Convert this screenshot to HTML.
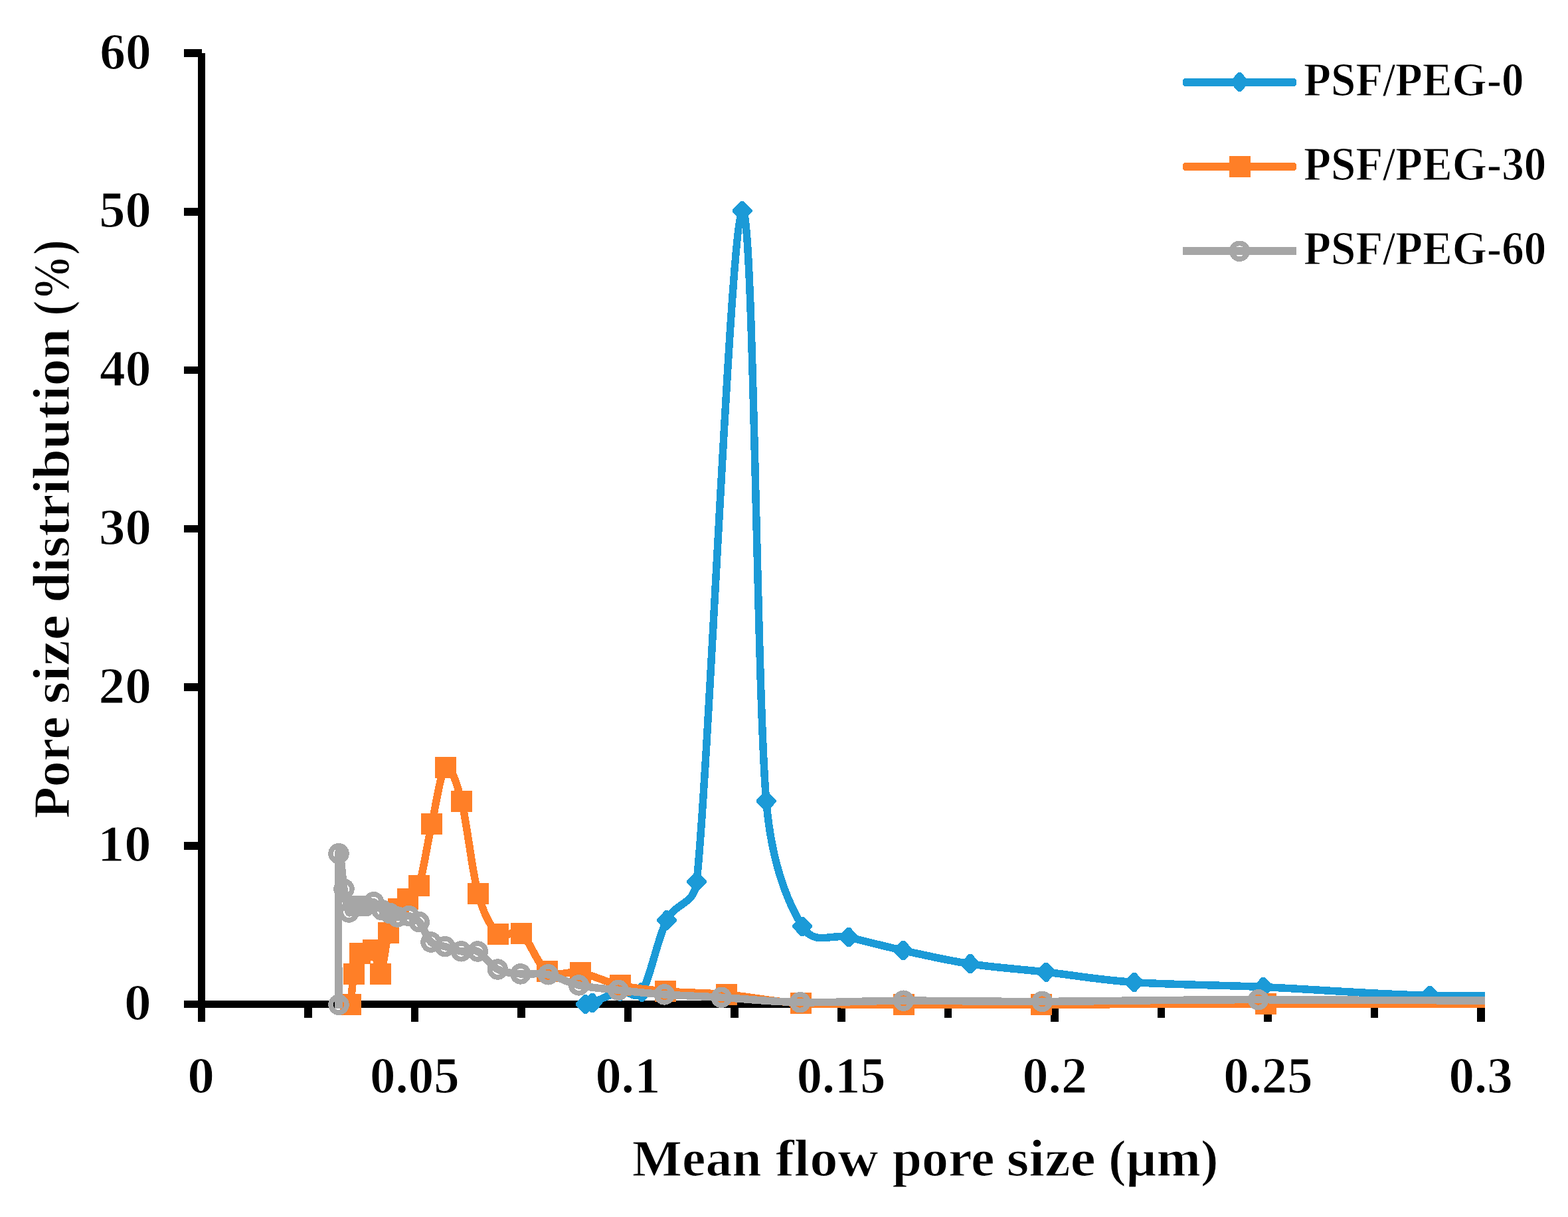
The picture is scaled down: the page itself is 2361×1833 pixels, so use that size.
<!DOCTYPE html>
<html lang="en"><head><meta charset="utf-8"><title>Pore size distribution</title>
<style>html,body{margin:0;padding:0;background:#fff;}body{width:2361px;height:1833px;overflow:hidden;}svg{display:block;}text{font-family:"Liberation Serif", "DejaVu Serif", serif;font-weight:bold;fill:#000;stroke:#fff;stroke-width:1.2;stroke-linejoin:round;white-space:pre;}</style>
</head><body>
<svg width="2361" height="1833" viewBox="0 0 2361 1833" role="img" aria-label="Pore size distribution versus mean flow pore size for PSF/PEG-0, PSF/PEG-30 and PSF/PEG-60">
<rect width="2361" height="1833" fill="#fff"/>
<defs><clipPath id="plot"><rect x="200" y="0" width="2036" height="1833"/></clipPath></defs>
<g fill="#000" shape-rendering="crispEdges">
<rect x="298" y="80" width="11" height="1459"/>
<rect x="277" y="1507" width="1959" height="11"/>
<rect x="277" y="74" width="27" height="12"/>
<rect x="277" y="313" width="27" height="12"/>
<rect x="277" y="552" width="27" height="11"/>
<rect x="277" y="791" width="27" height="11"/>
<rect x="277" y="1029" width="27" height="12"/>
<rect x="277" y="1268" width="27" height="12"/>
<rect x="458" y="1512" width="12" height="21"/>
<rect x="619" y="1512" width="11" height="27"/>
<rect x="779" y="1512" width="12" height="21"/>
<rect x="940" y="1512" width="11" height="27"/>
<rect x="1100" y="1512" width="12" height="21"/>
<rect x="1261" y="1512" width="12" height="27"/>
<rect x="1422" y="1512" width="11" height="21"/>
<rect x="1582" y="1512" width="12" height="27"/>
<rect x="1743" y="1512" width="11" height="21"/>
<rect x="1903" y="1512" width="12" height="27"/>
<rect x="2064" y="1512" width="11" height="21"/>
<rect x="2224" y="1512" width="12" height="27"/>
</g>
<g clip-path="url(#plot)" shape-rendering="crispEdges"><path d="M881.5 1512.6C883.22 1512.27 886.88 1512.42 891.8 1510.6C900.47 1507.4 921.05 1496.15 933.5 1493.4C945.95 1490.65 957.46 1507.91 966.5 1494.1C978.23 1476.18 990.15 1413.6 1003.9 1385.9C1017.65 1358.2 1045.12 1364.43 1049 1327.9C1067.93 1149.85 1100.03 337.82 1117.5 317.6C1134.97 297.38 1138.72 1026.98 1153.8 1206.6C1162.01 1304.42 1187.33 1361.13 1208 1395.3C1226.55 1425.97 1252.5 1405.57 1277.8 1411.6C1303.1 1417.63 1329.27 1424.8 1359.8 1431.5C1390.33 1438.2 1425.12 1446.37 1461 1451.8C1496.88 1457.23 1533.98 1459.48 1575.1 1464.1C1616.22 1468.72 1653.18 1475.75 1707.7 1479.5C1762.22 1483.25 1828 1483.28 1902.2 1486.6C1976.4 1489.92 2066.6 1497.33 2152.9 1499.4C2239.2 1501.47 2375.48 1499.07 2420 1499" fill="none" stroke="#1B9AD7" stroke-width="11.5" stroke-linejoin="round" stroke-linecap="round"/><g fill="#1B9AD7"><path d="M879.2 1498L883.8 1498L896.5 1511.1L896.5 1514.1L883.8 1527.2L879.2 1527.2L866.5 1514.1L866.5 1511.1Z"/><path d="M889.5 1496L894.1 1496L906.8 1509.1L906.8 1512.1L894.1 1525.2L889.5 1525.2L876.8 1512.1L876.8 1509.1Z"/><path d="M931.2 1478.8L935.8 1478.8L948.5 1491.9L948.5 1494.9L935.8 1508L931.2 1508L918.5 1494.9L918.5 1491.9Z"/><path d="M964.2 1479.5L968.8 1479.5L981.5 1492.6L981.5 1495.6L968.8 1508.7L964.2 1508.7L951.5 1495.6L951.5 1492.6Z"/><path d="M1001.6 1371.3L1006.2 1371.3L1018.9 1384.4L1018.9 1387.4L1006.2 1400.5L1001.6 1400.5L988.9 1387.4L988.9 1384.4Z"/><path d="M1046.7 1313.3L1051.3 1313.3L1064 1326.4L1064 1329.4L1051.3 1342.5L1046.7 1342.5L1034 1329.4L1034 1326.4Z"/><path d="M1115.2 303L1119.8 303L1132.5 316.1L1132.5 319.1L1119.8 332.2L1115.2 332.2L1102.5 319.1L1102.5 316.1Z"/><path d="M1151.5 1192L1156.1 1192L1168.8 1205.1L1168.8 1208.1L1156.1 1221.2L1151.5 1221.2L1138.8 1208.1L1138.8 1205.1Z"/><path d="M1205.7 1380.7L1210.3 1380.7L1223 1393.8L1223 1396.8L1210.3 1409.9L1205.7 1409.9L1193 1396.8L1193 1393.8Z"/><path d="M1275.5 1397L1280.1 1397L1292.8 1410.1L1292.8 1413.1L1280.1 1426.2L1275.5 1426.2L1262.8 1413.1L1262.8 1410.1Z"/><path d="M1357.5 1416.9L1362.1 1416.9L1374.8 1430L1374.8 1433L1362.1 1446.1L1357.5 1446.1L1344.8 1433L1344.8 1430Z"/><path d="M1458.7 1437.2L1463.3 1437.2L1476 1450.3L1476 1453.3L1463.3 1466.4L1458.7 1466.4L1446 1453.3L1446 1450.3Z"/><path d="M1572.8 1449.5L1577.4 1449.5L1590.1 1462.6L1590.1 1465.6L1577.4 1478.7L1572.8 1478.7L1560.1 1465.6L1560.1 1462.6Z"/><path d="M1705.4 1464.9L1710 1464.9L1722.7 1478L1722.7 1481L1710 1494.1L1705.4 1494.1L1692.7 1481L1692.7 1478Z"/><path d="M1899.9 1472L1904.5 1472L1917.2 1485.1L1917.2 1488.1L1904.5 1501.2L1899.9 1501.2L1887.2 1488.1L1887.2 1485.1Z"/><path d="M2150.6 1484.8L2155.2 1484.8L2167.9 1497.9L2167.9 1500.9L2155.2 1514L2150.6 1514L2137.9 1500.9L2137.9 1497.9Z"/><path d="M2417.7 1484.4L2422.3 1484.4L2435 1497.5L2435 1500.5L2422.3 1513.6L2417.7 1513.6L2405 1500.5L2405 1497.5Z"/></g></g>
<g clip-path="url(#plot)" shape-rendering="crispEdges"><path d="M528 1513C528.83 1505.32 530.67 1479.72 533 1466.9C535.33 1454.08 537.13 1442.08 542 1436.1C546.87 1430.12 557.03 1425.87 562.2 1431C567.37 1436.13 569.18 1471.22 573 1466.9C576.82 1462.58 580.63 1421.4 585.1 1405.1C589.57 1388.8 595 1377.6 599.8 1369.1C604.6 1360.6 608.7 1359.95 613.9 1354.1C619.1 1348.25 626.98 1346.57 631 1334C637.03 1315.15 643.43 1270.65 650.1 1241C656.77 1211.35 663.52 1161.78 671 1156.1C678.48 1150.42 688 1179.69 695 1206.9C703.15 1238.57 710.73 1312.8 719.9 1346.1C728.88 1378.72 739.15 1396.72 750 1406.7C760.85 1416.68 772.68 1396.62 785 1406C797.32 1415.38 809.08 1453.17 823.9 1463C838.72 1472.83 855.55 1461.48 873.9 1465C892.25 1468.52 912.68 1479.43 934 1484.1C955.32 1488.77 975.12 1490.7 1001.8 1493C1028.48 1495.3 1060.03 1494.87 1094.1 1497.9C1128.17 1500.93 1161.72 1508.68 1206.2 1511.2C1250.68 1513.72 1300.73 1512.7 1361 1513C1421.27 1513.3 1476.97 1513.13 1567.8 1513C1658.63 1512.87 1763.97 1512.37 1906 1512.2C2048.03 1512.03 2334.33 1512.03 2420 1512" fill="none" stroke="#FF7F27" stroke-width="11.5" stroke-linejoin="round" stroke-linecap="round"/><g fill="#FF7F27"><rect x="512" y="1497" width="32" height="32"/><rect x="517" y="1450.9" width="32" height="32"/><rect x="526" y="1420.1" width="32" height="32"/><rect x="546.2" y="1415" width="32" height="32"/><rect x="557" y="1450.9" width="32" height="32"/><rect x="569.1" y="1389.1" width="32" height="32"/><rect x="583.8" y="1353.1" width="32" height="32"/><rect x="597.9" y="1338.1" width="32" height="32"/><rect x="615" y="1318" width="32" height="32"/><rect x="634.1" y="1225" width="32" height="32"/><rect x="655" y="1140.1" width="32" height="32"/><rect x="679" y="1190.9" width="32" height="32"/><rect x="703.9" y="1330.1" width="32" height="32"/><rect x="734" y="1390.7" width="32" height="32"/><rect x="769" y="1390" width="32" height="32"/><rect x="807.9" y="1447" width="32" height="32"/><rect x="857.9" y="1449" width="32" height="32"/><rect x="918" y="1468.1" width="32" height="32"/><rect x="985.8" y="1477" width="32" height="32"/><rect x="1078.1" y="1481.9" width="32" height="32"/><rect x="1190.2" y="1495.2" width="32" height="32"/><rect x="1345" y="1497" width="32" height="32"/><rect x="1551.8" y="1497" width="32" height="32"/><rect x="1890" y="1496.2" width="32" height="32"/><rect x="2404" y="1496" width="32" height="32"/></g></g>
<g clip-path="url(#plot)" shape-rendering="crispEdges"><path d="M510 1513.2C510 1475.28 508.67 1314.73 510 1285.7C511.24 1258.78 515.47 1324.28 518 1339C520.53 1353.72 522.78 1369.78 525.2 1374C527.62 1378.22 529.87 1365.9 532.5 1364.3C535.13 1362.7 538.08 1364.32 541 1364.4C543.92 1364.48 546.4 1365.75 550 1364.8C553.6 1363.85 558.43 1357.72 562.6 1358.7C566.77 1359.68 570.97 1367.9 575 1370.7C579.03 1373.5 582.92 1373.78 586.8 1375.5C590.68 1377.22 593.47 1380.32 598.3 1381C603.13 1381.68 610.3 1378.33 615.8 1379.6C621.3 1380.87 625.77 1382.03 631.3 1388.6C636.83 1395.17 642.55 1412.83 649 1419C655.45 1425.17 662.45 1423.3 670 1425.6C677.55 1427.9 686.08 1431.57 694.3 1432.8C702.52 1434.03 710.12 1428.47 719.3 1433C728.48 1437.53 738.63 1454.35 749.4 1460C760.17 1465.65 771.25 1465.6 783.9 1466.9C796.55 1468.2 810.68 1464.97 825.3 1467.8C839.92 1470.63 853.98 1479.98 871.6 1483.9C889.22 1487.82 909.53 1488.97 931 1491.3C952.47 1493.63 974.53 1496.07 1000.4 1497.9C1026.27 1499.73 1052.13 1500.33 1086.2 1502.3C1120.27 1504.27 1159.08 1508.88 1204.8 1509.7C1250.52 1510.52 1299.75 1507.42 1360.5 1507.2C1421.25 1506.98 1480.28 1508.65 1569.3 1508.4C1658.32 1508.15 1752.82 1505.72 1894.6 1505.7C2036.38 1505.68 2332.43 1507.87 2420 1508.3" fill="none" stroke="#A6A6A6" stroke-width="11.5" stroke-linejoin="round" stroke-linecap="square"/><g fill="none" stroke="#A6A6A6" stroke-width="7.7"><circle cx="510" cy="1513.2" r="11.9"/><circle cx="510" cy="1285.7" r="11.9"/><circle cx="518" cy="1339" r="11.9"/><circle cx="525.2" cy="1374" r="11.9"/><circle cx="532.5" cy="1364.3" r="11.9"/><circle cx="541" cy="1364.4" r="11.9"/><circle cx="550" cy="1364.8" r="11.9"/><circle cx="562.6" cy="1358.7" r="11.9"/><circle cx="575" cy="1370.7" r="11.9"/><circle cx="586.8" cy="1375.5" r="11.9"/><circle cx="598.3" cy="1381" r="11.9"/><circle cx="615.8" cy="1379.6" r="11.9"/><circle cx="631.3" cy="1388.6" r="11.9"/><circle cx="649" cy="1419" r="11.9"/><circle cx="670" cy="1425.6" r="11.9"/><circle cx="694.3" cy="1432.8" r="11.9"/><circle cx="719.3" cy="1433" r="11.9"/><circle cx="749.4" cy="1460" r="11.9"/><circle cx="783.9" cy="1466.9" r="11.9"/><circle cx="825.3" cy="1467.8" r="11.9"/><circle cx="871.6" cy="1483.9" r="11.9"/><circle cx="931" cy="1491.3" r="11.9"/><circle cx="1000.4" cy="1497.9" r="11.9"/><circle cx="1086.2" cy="1502.3" r="11.9"/><circle cx="1204.8" cy="1509.7" r="11.9"/><circle cx="1360.5" cy="1507.2" r="11.9"/><circle cx="1569.3" cy="1508.4" r="11.9"/><circle cx="1894.6" cy="1505.7" r="11.9"/><circle cx="2420" cy="1508.3" r="11.9"/></g></g>
<g font-size="79.061px">
<text x="150.35" y="103.5" textLength="77.45" lengthAdjust="spacingAndGlyphs">60</text>
<text x="149.25" y="342.25" textLength="78.52" lengthAdjust="spacingAndGlyphs">50</text>
<text x="150.05" y="581" textLength="77.49" lengthAdjust="spacingAndGlyphs">40</text>
<text x="149.1" y="819.75" textLength="78.8" lengthAdjust="spacingAndGlyphs">30</text>
<text x="148.6" y="1058.5" textLength="79.34" lengthAdjust="spacingAndGlyphs">20</text>
<text x="146.9" y="1297.25" textLength="80.77" lengthAdjust="spacingAndGlyphs">10</text>
<text x="187.05" y="1536" textLength="40.76" lengthAdjust="spacingAndGlyphs">0</text>
<text x="282.25" y="1645.5" textLength="40.76" lengthAdjust="spacingAndGlyphs">0</text>
<text x="557.1" y="1645.5" textLength="134.7" lengthAdjust="spacingAndGlyphs">0.05</text>
<text x="896.4" y="1645.5" textLength="98.02" lengthAdjust="spacingAndGlyphs">0.1</text>
<text x="1199.7" y="1645.5" textLength="133.92" lengthAdjust="spacingAndGlyphs">0.15</text>
<text x="1539.5" y="1645.5" textLength="97.5" lengthAdjust="spacingAndGlyphs">0.2</text>
<text x="1842.3" y="1645.5" textLength="134.18" lengthAdjust="spacingAndGlyphs">0.25</text>
<text x="2181.5" y="1645.5" textLength="96.17" lengthAdjust="spacingAndGlyphs">0.3</text>
</g>
<g font-size="78.941px">
<text y="1770.9"><tspan x="951.7" textLength="194.96" lengthAdjust="spacingAndGlyphs">Mean</tspan> <tspan x="1167.65" textLength="155.03" lengthAdjust="spacingAndGlyphs">flow</tspan> <tspan x="1343.4" textLength="154.08" lengthAdjust="spacingAndGlyphs">pore</tspan> <tspan x="1515.75" textLength="134.16" lengthAdjust="spacingAndGlyphs">size</tspan> <tspan x="1668.9" textLength="165.65" lengthAdjust="spacingAndGlyphs">(µm)</tspan></text>
<text transform="translate(104.3 1230.7) rotate(-90)" y="0"><tspan x="-2" textLength="153.8" lengthAdjust="spacingAndGlyphs">Pore</tspan> <tspan x="170.35" textLength="134.42" lengthAdjust="spacingAndGlyphs">size</tspan> <tspan x="322.9" textLength="412.86" lengthAdjust="spacingAndGlyphs">distribution</tspan> <tspan x="755.1" textLength="114.36" lengthAdjust="spacingAndGlyphs">(%)</tspan></text>
</g>
<g font-size="72.515px" shape-rendering="crispEdges">
<rect x="1781" y="118.25" width="171" height="11.5" rx="3.5" fill="#1B9AD7"/>
<g fill="#1B9AD7"><path d="M1864.6 108.95L1868.4 108.95L1880.7 122.35L1880.7 124.75L1868.4 138.15L1864.6 138.15L1852.3 124.75L1852.3 122.35Z"/></g>
<text x="1963.05" y="143.5" textLength="331.42" lengthAdjust="spacingAndGlyphs">PSF/PEG-0</text>
<rect x="1781" y="245.25" width="171" height="11.5" rx="3.5" fill="#FF7F27"/>
<g fill="#FF7F27"><rect x="1850.9" y="235" width="32" height="32"/></g>
<text x="1963.05" y="270.5" textLength="365.18" lengthAdjust="spacingAndGlyphs">PSF/PEG-30</text>
<rect x="1781" y="372.25" width="171" height="11.5" fill="#A6A6A6"/>
<g fill="none" stroke="#A6A6A6" stroke-width="7.7"><circle cx="1866.5" cy="378.3" r="11.9"/></g>
<text x="1963.05" y="397.5" textLength="365.18" lengthAdjust="spacingAndGlyphs">PSF/PEG-60</text>
</g>
</svg></body></html>
